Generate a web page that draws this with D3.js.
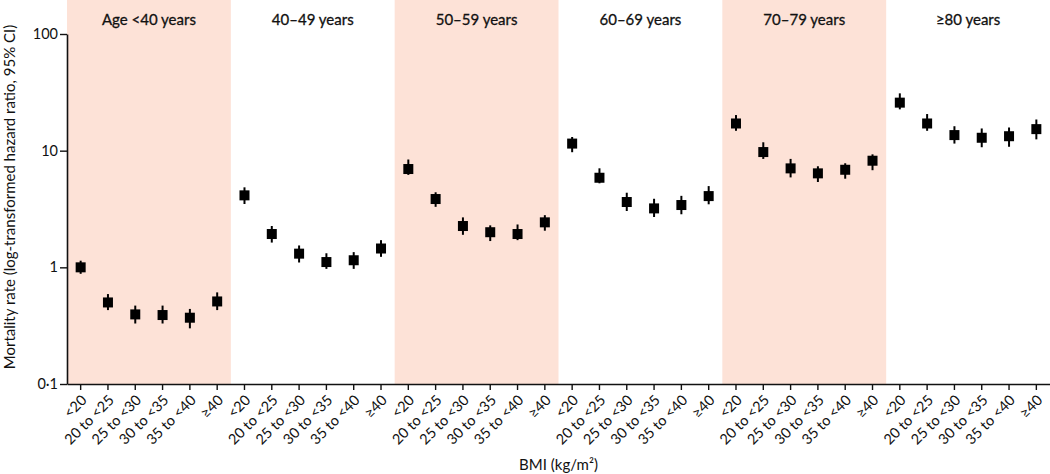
<!DOCTYPE html>
<html>
<head>
<meta charset="utf-8">
<script src="https://cdn.jsdelivr.net/npm/d3@7"></script>
<style>
  html, body { margin: 0; padding: 0; background: #fff; }
  svg { display: block; font-family: Lato, "Open Sans", sans-serif; }
</style>
</head>
<body>
<svg id="chart" width="1050" height="474"></svg>
<script>
const ageGroups = ["Age <40 years", "40–49 years", "50–59 years", "60–69 years", "70–79 years", "≥80 years"];
const bmiGroups = ["<20", "20 to <25", "25 to <30", "30 to <35", "35 to <40", "≥40"];
const yTicks = [0.1, 1, 10, 100];
const yTickLabels = ["0·1", "1", "10", "100"];

// hazard ratio estimates, one row per age group, one column per BMI group
const hrEstimate = [
  [1.00, 0.50, 0.395, 0.39, 0.37, 0.51],
  [4.14, 1.93, 1.31, 1.11, 1.15, 1.45],
  [6.96, 3.85, 2.26, 2.00, 1.93, 2.43],
  [11.5, 5.86, 3.63, 3.20, 3.42, 4.08],
  [17.1, 9.73, 7.05, 6.39, 6.86, 8.20],
  [25.8, 17.1, 13.6, 12.9, 13.3, 15.3]
];
const ciLower = [
  [0.88, 0.43, 0.33, 0.33, 0.30, 0.43],
  [3.49, 1.63, 1.10, 0.97, 0.97, 1.23],
  [6.20, 3.30, 1.90, 1.68, 1.71, 2.06],
  [9.7, 5.25, 3.04, 2.70, 2.85, 3.47],
  [14.8, 8.5, 5.9, 5.39, 5.75, 6.8],
  [22.6, 14.8, 11.5, 10.7, 10.8, 12.5]
];
const ciUpper = [
  [1.14, 0.59, 0.47, 0.47, 0.44, 0.61],
  [4.85, 2.26, 1.54, 1.32, 1.35, 1.71],
  [8.40, 4.40, 2.68, 2.29, 2.33, 2.80],
  [13.1, 7.06, 4.36, 3.87, 4.10, 4.97],
  [20.2, 11.8, 8.5, 7.35, 7.8, 9.3],
  [31.0, 20.6, 16.2, 15.5, 15.8, 18.5]
];

const svg = d3.select("#chart");
const shade = "#fde2d7";
const fontFam = "Lato, 'Open Sans', sans-serif";

const keys = [];
ageGroups.forEach((a, i) => bmiGroups.forEach((b, j) => keys.push(i + "|" + j)));

const x = d3.scaleBand().domain(keys).range([67, 1050]).padding(0);
const y = d3.scaleLog().domain([0.1, 100]).range([384, 34]);

const points = [];
ageGroups.forEach((a, i) => bmiGroups.forEach((b, j) => {
  points.push({ key: i + "|" + j, age: i, hr: hrEstimate[i][j], lo: ciLower[i][j], hi: ciUpper[i][j] });
}));

// panel shading
const panelW = x.step() * bmiGroups.length;
svg.append("g").selectAll("rect").data(ageGroups).join("rect")
  .attr("x", (d, i) => x(i + "|0"))
  .attr("y", 0)
  .attr("width", panelW)
  .attr("height", y(0.1))
  .attr("fill", (d, i) => i % 2 === 0 ? shade : "none");

// panel titles
svg.append("g").selectAll("text").data(ageGroups).join("text")
  .attr("x", (d, i) => x(i + "|0") + panelW / 2)
  .attr("y", 25)
  .attr("text-anchor", "middle")
  .attr("font-size", 15)
  .attr("fill", "#111")
  .attr("stroke", "#111")
  .attr("stroke-width", 0.3)
  .text(d => d);

// y axis
const yAxis = svg.append("g")
  .attr("transform", `translate(${x.range()[0]},0)`)
  .call(d3.axisLeft(y).tickValues(yTicks).tickFormat((d, i) => yTickLabels[i]).tickSize(7).tickSizeOuter(0));
yAxis.select(".domain").attr("stroke", "#111").attr("stroke-width", 1.6);
yAxis.selectAll(".tick line").attr("stroke", "#111").attr("stroke-width", 1.4);
yAxis.selectAll(".tick text").attr("font-size", 14.5).attr("font-family", fontFam).attr("fill", "#111").attr("x", -9);

// x axis
const xAxis = svg.append("g")
  .attr("transform", `translate(0,${y(0.1)})`)
  .call(d3.axisBottom(x).tickFormat(k => bmiGroups[+k.split("|")[1]]).tickSize(6).tickSizeOuter(0));
xAxis.select(".domain").attr("stroke", "#111").attr("stroke-width", 1.6);
xAxis.selectAll(".tick line").attr("stroke", "#111").attr("stroke-width", 1.4);
xAxis.selectAll(".tick text")
  .attr("font-size", 14.5)
  .attr("font-family", fontFam)
  .attr("fill", "#111")
  .attr("text-anchor", "end")
  .attr("x", 0).attr("y", 0).attr("dy", 0)
  .attr("transform", "translate(7,17) rotate(-45)");

// CI lines
const cx = d => x(d.key) + x.bandwidth() / 2;
svg.append("g").selectAll("line").data(points).join("line")
  .attr("x1", cx).attr("x2", cx)
  .attr("y1", d => y(d.lo)).attr("y2", d => y(d.hi))
  .attr("stroke", "#000").attr("stroke-width", 2);

// estimate markers
const s = 10;
svg.append("g").selectAll("rect").data(points).join("rect")
  .attr("x", d => cx(d) - s / 2)
  .attr("y", d => y(d.hr) - s / 2)
  .attr("width", s).attr("height", s)
  .attr("fill", "#000");

// axis titles
svg.append("text")
  .attr("x", (x.range()[0] + x.range()[1]) / 2)
  .attr("y", 470)
  .attr("text-anchor", "middle")
  .attr("font-size", 15)
  .attr("fill", "#111")
  .text("BMI (kg/m²)");

svg.append("text")
  .attr("transform", "translate(15,197) rotate(-90)")
  .attr("text-anchor", "middle")
  .attr("font-size", 15)
  .attr("fill", "#111")
  .text("Mortality rate (log-transformed hazard ratio, 95% CI)");
</script>
</body>
</html>
